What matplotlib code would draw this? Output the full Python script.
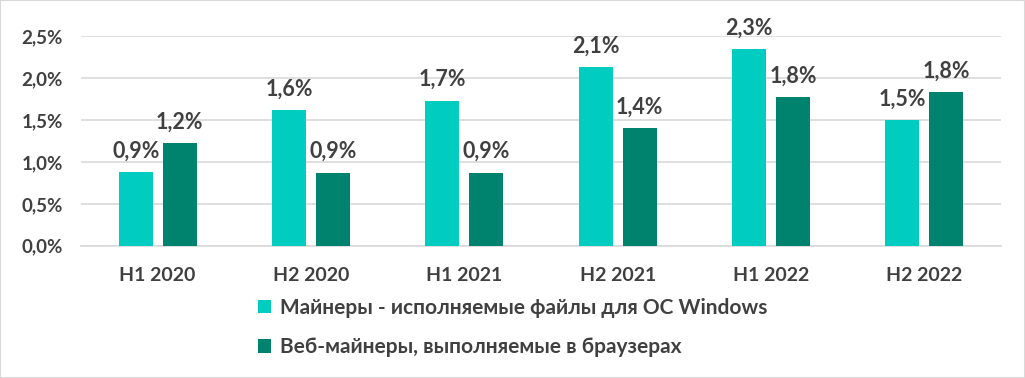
import matplotlib.pyplot as plt
import numpy as np
from matplotlib.patches import Rectangle

plt.rcParams['font.family'] = ['Lato', 'Noto Sans', 'DejaVu Sans']

# share of miners, %
periods = ['H1 2020', 'H2 2020', 'H1 2021', 'H2 2021', 'H1 2022', 'H2 2022']
win_miners = [0.88, 1.62, 1.73, 2.13, 2.34, 1.50]
web_miners = [1.22, 0.87, 0.87, 1.40, 1.77, 1.83]
series_names = ['Майнеры - исполняемые файлы для ОС Windows',
                'Веб-майнеры, выполняемые в браузерах']

c_win = '#00CCC0'
c_web = '#00836E'
txt = '#404040'

fig = plt.figure(figsize=(10.25, 3.78), dpi=100)
ax = fig.add_axes([81/1025, 1 - 245.7/378, 920/1025, (245.7 - 36)/378])

x = np.arange(len(periods))
w = 0.222
off = 0.143
b1 = ax.bar(x - off, win_miners, w, color=c_win, label=series_names[0], zorder=3)
b2 = ax.bar(x + off, web_miners, w, color=c_web, label=series_names[1], zorder=3)

def pct(v):
    return ('%.1f%%' % v).replace('.', ',')

for bars, vals in [(b1, win_miners), (b2, web_miners)]:
    for r, v in zip(bars, vals):
        ax.annotate(pct(v), (r.get_x() + r.get_width()/2, v), xytext=(0, 10.5),
                    textcoords='offset points', ha='center', va='baseline',
                    fontsize=15.5, fontweight='bold', color=txt, clip_on=False)

ax.set_xlim(-0.5, len(periods) - 0.5)
ax.set_ylim(0, 2.5)
ax.set_yticks(np.arange(0, 2.51, 0.5))
ax.set_yticklabels([pct(t) for t in np.arange(0, 2.51, 0.5)])
ax.set_xticks(x)
ax.set_xticklabels(periods)
ax.tick_params(axis='y', length=0, pad=13, labelsize=13.5, labelcolor=txt)
ax.tick_params(axis='x', length=0, pad=15, labelsize=14, labelcolor=txt)
for lab in ax.get_xticklabels() + ax.get_yticklabels():
    lab.set_fontweight('bold')

ax.grid(axis='y', color='#d9d9d9', linewidth=1.2, zorder=0)
for s in ['top', 'right', 'left']:
    ax.spines[s].set_visible(False)
ax.spines['bottom'].set_color('#d9d9d9')
ax.spines['bottom'].set_linewidth(1.2)

leg = fig.legend(handles=[b1, b2], loc='upper left',
                 bbox_to_anchor=(258/1025, 1 - 298/378), frameon=False,
                 borderpad=0, borderaxespad=0, handlelength=0.62, handleheight=0.62,
                 handletextpad=0.45, labelspacing=0.92,
                 prop={'size': 15, 'weight': 'bold'})
for t in leg.get_texts():
    t.set_color(txt)

fig.patches.append(Rectangle((0, 0), 1, 1, transform=fig.transFigure,
                             fill=False, edgecolor='#d9d9d9', linewidth=1.5))

fig.savefig('out.png', dpi=100)
